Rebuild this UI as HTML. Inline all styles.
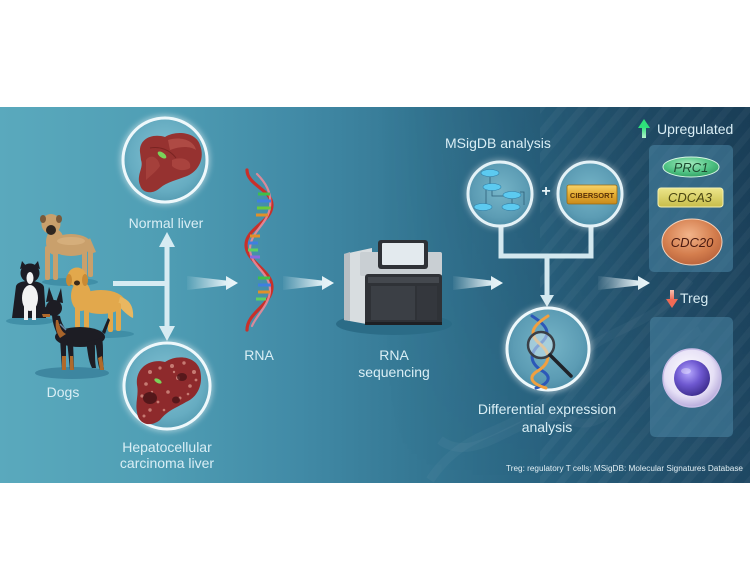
<!DOCTYPE html>
<html><head><meta charset="utf-8"><style>
html,body{margin:0;padding:0;background:#fff;}
svg{display:block;}
text{font-family:"Liberation Sans",Arial,sans-serif;}
</style></head><body>
<svg width="750" height="566" viewBox="0 0 750 566" xmlns="http://www.w3.org/2000/svg">
<defs>
<linearGradient id="bg" x1="0" x2="1" y1="0" y2="0">
<stop offset="0" stop-color="#5aa9bd"/>
<stop offset="0.2" stop-color="#509fb5"/>
<stop offset="0.4" stop-color="#418aa6"/>
<stop offset="0.55" stop-color="#357894"/>
<stop offset="0.7" stop-color="#2b6683"/>
<stop offset="0.85" stop-color="#245470"/>
<stop offset="1" stop-color="#1f4863"/>
</linearGradient>
<linearGradient id="vshade" x1="0" x2="0" y1="0" y2="1">
<stop offset="0" stop-color="#0c2236" stop-opacity="0.28"/>
<stop offset="1" stop-color="#0c2236" stop-opacity="0"/>
</linearGradient>
<linearGradient id="hfade" x1="0" x2="1" y1="0" y2="0">
<stop offset="0" stop-color="#fff" stop-opacity="0"/>
<stop offset="1" stop-color="#fff" stop-opacity="1"/>
</linearGradient>
<mask id="rightmask"><rect x="380" y="107" width="370" height="376" fill="url(#hfade)"/></mask>
<pattern id="stripes" width="16" height="16" patternUnits="userSpaceOnUse" patternTransform="rotate(40)">
<rect width="7" height="16" fill="#ffffff" fill-opacity="0.035"/>
</pattern>
<linearGradient id="arr" x1="0" x2="1" y1="0" y2="0">
<stop offset="0" stop-color="#e8f4f8" stop-opacity="0.05"/>
<stop offset="0.75" stop-color="#e8f4f8" stop-opacity="0.95"/>
<stop offset="1" stop-color="#eef8fb" stop-opacity="1"/>
</linearGradient>
<radialGradient id="cfill" cx="0.5" cy="0.45" r="0.6">
<stop offset="0" stop-color="#86c4d5"/>
<stop offset="0.7" stop-color="#66acc1"/>
<stop offset="1" stop-color="#5096ad"/>
</radialGradient>
<radialGradient id="cfill2" cx="0.5" cy="0.45" r="0.6">
<stop offset="0" stop-color="#76b5c8"/>
<stop offset="0.7" stop-color="#5c9cb4"/>
<stop offset="1" stop-color="#4888a2"/>
</radialGradient>
<filter id="glow" x="-30%" y="-30%" width="160%" height="160%">
<feGaussianBlur stdDeviation="3"/>
</filter>
<radialGradient id="prc" cx="0.45" cy="0.35" r="0.7">
<stop offset="0" stop-color="#a6ecc0"/>
<stop offset="0.6" stop-color="#4fc283"/>
<stop offset="1" stop-color="#2e9a5f"/>
</radialGradient>
<linearGradient id="cdca" x1="0" x2="0" y1="0" y2="1">
<stop offset="0" stop-color="#ece68a"/>
<stop offset="1" stop-color="#c8bd4a"/>
</linearGradient>
<radialGradient id="cdc20" cx="0.45" cy="0.35" r="0.7">
<stop offset="0" stop-color="#f2b48a"/>
<stop offset="0.6" stop-color="#d47e4e"/>
<stop offset="1" stop-color="#b5603a"/>
</radialGradient>
<linearGradient id="gold" x1="0" x2="0" y1="0" y2="1">
<stop offset="0" stop-color="#f6d36a"/>
<stop offset="0.5" stop-color="#e5ad32"/>
<stop offset="1" stop-color="#c98a1c"/>
</linearGradient>
<radialGradient id="nuc" cx="0.4" cy="0.35" r="0.7">
<stop offset="0" stop-color="#b6a8ff"/>
<stop offset="0.5" stop-color="#6e58d0"/>
<stop offset="1" stop-color="#3a2a8a"/>
</radialGradient>
<radialGradient id="cell" cx="0.45" cy="0.4" r="0.6">
<stop offset="0" stop-color="#ffffff"/>
<stop offset="0.7" stop-color="#e6e0f6"/>
<stop offset="1" stop-color="#b9addc"/>
</radialGradient>
<linearGradient id="grn" x1="0" x2="0" y1="0" y2="1">
<stop offset="0" stop-color="#2ee07a"/>
<stop offset="1" stop-color="#b7f5cf"/>
</linearGradient>
<linearGradient id="red" x1="0" x2="0" y1="0" y2="1">
<stop offset="0" stop-color="#f9c0b0"/>
<stop offset="1" stop-color="#ef6a55"/>
</linearGradient>
</defs>

<rect x="0" y="107" width="750" height="376" fill="url(#bg)"/>
<rect x="380" y="107" width="370" height="376" fill="url(#vshade)" mask="url(#rightmask)"/>
<rect x="540" y="107" width="210" height="376" fill="url(#stripes)"/>
<g fill="none" stroke="#ffffff" stroke-opacity="0.035" stroke-width="9">
<path d="M430,480 C470,420 520,440 560,380 C600,320 640,340 690,280"/>
<path d="M440,440 C480,470 530,400 570,420 C610,440 650,360 700,330"/>
</g>

<!-- Dogs -->
<g>
<ellipse cx="70" cy="282" rx="28" ry="4" fill="#3b8aa3" opacity="0.8"/>
<ellipse cx="30" cy="321" rx="24" ry="4" fill="#3b8aa3" opacity="0.8"/>
<ellipse cx="104" cy="334" rx="30" ry="4" fill="#3b8aa3" opacity="0.8"/>
<ellipse cx="72" cy="373" rx="37" ry="6" fill="#3a819b" opacity="0.85"/>
<g fill="#c9a06c">
<ellipse cx="71" cy="245" rx="21" ry="11"/>
<ellipse cx="55" cy="242" rx="9" ry="13"/>
<rect x="45" y="246" width="5" height="34" rx="2"/>
<rect x="53" y="248" width="5" height="32" rx="2"/>
<rect x="82" y="248" width="5" height="30" rx="2"/>
<rect x="88" y="246" width="5" height="31" rx="2"/>
<path d="M90,238 L96,252 L93,253 L88,241Z"/>
<ellipse cx="51" cy="224" rx="9.5" ry="10"/>
</g>
<ellipse cx="51" cy="230" rx="5" ry="5" fill="#2e2620"/>
<ellipse cx="43" cy="219" rx="3" ry="4" fill="#7a5a3a"/>
<ellipse cx="59" cy="219" rx="3" ry="4" fill="#7a5a3a"/>
<ellipse cx="71" cy="241" rx="14" ry="4" fill="#ddb886" opacity="0.6"/>
<path d="M16,286 C18,279 42,279 44,287 L46,318 L12,318 Z" fill="#1c1c24"/>
<ellipse cx="30" cy="298" rx="8" ry="13" fill="#f2f2f2"/>
<rect x="24" y="304" width="4" height="16" fill="#f2f2f2"/>
<rect x="32" y="304" width="4" height="16" fill="#f2f2f2"/>
<circle cx="30" cy="273" r="9.5" fill="#1c1c24"/>
<path d="M20,269 L22,261 L27,267Z M40,269 L38,261 L33,267Z" fill="#1c1c24"/>
<ellipse cx="30" cy="278" rx="3.5" ry="6" fill="#f2f2f2"/>
<g fill="#e2a84c">
<ellipse cx="101" cy="302" rx="24" ry="12"/>
<ellipse cx="81" cy="296" rx="10" ry="15"/>
<path d="M120,297 C130,299 134,308 133,318 C128,316 122,310 118,305Z" fill="#e9b760"/>
<rect x="75" y="304" width="5" height="28" rx="2"/>
<rect x="84" y="305" width="5" height="27" rx="2"/>
<rect x="108" y="305" width="5" height="27" rx="2"/>
<rect x="116" y="303" width="5" height="28" rx="2"/>
<circle cx="77" cy="277" r="9.5"/>
</g>
<ellipse cx="69" cy="280" rx="3" ry="6" fill="#c98a34"/>
<ellipse cx="85" cy="280" rx="3" ry="6" fill="#c98a34"/>
<ellipse cx="77" cy="283" rx="3" ry="2.5" fill="#3a2a1a"/>
<path d="M46,302 L49,287 L54,301Z M56,302 L61,288 L63,303Z" fill="#1d1d24"/>
<path d="M60,316 C62,326 66,330 70,332 L58,336 C54,328 52,320 52,314Z" fill="#1d1d24"/>
<ellipse cx="80" cy="337" rx="25" ry="10" fill="#1d1d24"/>
<ellipse cx="54" cy="308" rx="8" ry="8" fill="#1d1d24"/>
<path d="M47,306 L38,313 L42,317 L52,315Z" fill="#1d1d24"/>
<path d="M42,314 L50,314 L50,317 L43,317Z" fill="#b06a2a"/>
<path d="M58,320 C60,328 62,332 66,334 L60,338 C56,332 55,326 56,320Z" fill="#a8642a"/>
<path d="M60,338 L62,370 L66,370 L66,340Z M67,340 L70,370 L74,370 L73,340Z" fill="#1d1d24"/>
<path d="M62,356 L62,370 L66,370 L66,356Z M70,356 L70,370 L74,370 L73,356Z" fill="#b06a2a"/>
<path d="M94,340 C98,350 96,360 100,370 L104,370 C102,358 104,348 102,338Z M86,342 C88,352 88,360 92,368 L96,368 C94,356 96,348 94,340Z" fill="#1d1d24"/>
<path d="M98,358 L100,370 L104,370 L102,356Z" fill="#b06a2a"/>
<path d="M102,332 L108,318 L110,320 L105,334Z" fill="#1d1d24"/>
<path d="M60,324 L66,330" stroke="#6a8aa8" stroke-width="1.5"/>
</g>
<text x="63" y="397" font-size="14" fill="#d9eef5" text-anchor="middle">Dogs</text>

<g fill="#d6ebf2">
<rect x="113" y="281" width="56" height="5"/>
<rect x="164.5" y="244" width="5" height="85"/>
<polygon points="159,247 175,247 167,232"/>
<polygon points="159,326 175,326 167,341"/>
</g>

<!-- Normal liver -->
<circle cx="165" cy="160" r="45" fill="#ffffff" opacity="0.45" filter="url(#glow)"/>
<circle cx="165" cy="160" r="42" fill="url(#cfill)" stroke="#eef8fb" stroke-width="3"/>
<path d="M140,152 C139,139 152,133 165,137 C176,130 196,132 200,145 C205,158 199,171 187,176 C177,180 167,182 160,188 C152,195 142,193 140,185 C136,175 144,168 141,160 Z" fill="#963230"/>
<path d="M168,140 C180,136 194,140 196,150 C190,146 180,146 170,150Z" fill="#b4504a" opacity="0.8"/>
<path d="M146,160 C150,154 158,156 160,166 C156,172 150,176 146,180Z" fill="#a9433e" opacity="0.8"/>
<path d="M172,160 C182,156 192,160 190,168 C184,172 176,170 172,166Z" fill="#b04a44" opacity="0.7"/>
<path d="M150,148 C160,146 170,150 176,158" stroke="#7a2422" stroke-width="1" fill="none"/>
<ellipse cx="162" cy="155" rx="5" ry="2.5" fill="#7ad35a" transform="rotate(35 162 155)"/>
<text x="166" y="228" font-size="14" fill="#d9eef5" text-anchor="middle">Normal liver</text>

<!-- HCC liver -->
<circle cx="167" cy="386" r="46" fill="#ffffff" opacity="0.45" filter="url(#glow)"/>
<circle cx="167" cy="386" r="43" fill="url(#cfill)" stroke="#eef8fb" stroke-width="3"/>
<path d="M137,385 C135,368 150,358 165,362 C177,354 196,356 200,370 C204,386 196,398 186,402 C176,408 168,410 160,420 C150,428 138,424 137,412 C135,402 139,395 137,385 Z" fill="#8e2a2c"/>
<g fill="#d08a80" opacity="0.85">
<circle cx="150" cy="372" r="2"/><circle cx="160" cy="368" r="1.6"/><circle cx="172" cy="366" r="2"/><circle cx="184" cy="363" r="1.7"/><circle cx="194" cy="372" r="2"/>
<circle cx="146" cy="384" r="1.8"/><circle cx="156" cy="380" r="1.5"/><circle cx="178" cy="378" r="2"/><circle cx="190" cy="386" r="1.8"/><circle cx="196" cy="380" r="1.4"/>
<circle cx="142" cy="396" r="1.6"/><circle cx="168" cy="392" r="1.8"/><circle cx="180" cy="398" r="1.5"/><circle cx="150" cy="410" r="1.7"/><circle cx="158" cy="402" r="1.4"/>
<circle cx="144" cy="416" r="1.5"/><circle cx="164" cy="410" r="1.3"/><circle cx="188" cy="394" r="1.3"/><circle cx="174" cy="372" r="1.2"/><circle cx="152" cy="392" r="1.2"/>
</g>
<ellipse cx="150" cy="398" rx="7" ry="6" fill="#4a1418" opacity="0.85"/>
<ellipse cx="182" cy="377" rx="5" ry="4" fill="#4a1418" opacity="0.8"/>
<ellipse cx="176" cy="400" rx="4" ry="3.5" fill="#4a1418" opacity="0.8"/>
<ellipse cx="158" cy="381" rx="4" ry="2" fill="#7ad35a" transform="rotate(30 158 381)"/>
<text x="167" y="452" font-size="14" fill="#d9eef5" text-anchor="middle">Hepatocellular</text>
<text x="167" y="468" font-size="14" fill="#d9eef5" text-anchor="middle">carcinoma liver</text>

<!-- tapered arrows -->
<polygon points="187,276 226,280.5 226,276 238,283 226,290 226,285.5 187,290" fill="url(#arr)"/>
<polygon points="283,276 322,280.5 322,276 334,283 322,290 322,285.5 283,290" fill="url(#arr)"/>
<polygon points="453,276 491,280.5 491,276 503,283 491,290 491,285.5 453,290" fill="url(#arr)"/>
<polygon points="598,276 638,280.5 638,276 650,283 638,290 638,285.5 598,290" fill="url(#arr)"/>

<!-- RNA helix -->
<g fill="none" stroke-linecap="round">
<path d="M247,170 C247,185 272,190 272,205 C272,222 246,228 246,245 C246,262 272,270 272,287 C272,305 247,312 247,330" stroke="#c8302a" stroke-width="3.2"/>
<path d="M257,174 C265,182 272,192 270,207 C268,224 250,232 250,249 C250,266 270,272 270,290 C270,304 256,316 252,326" stroke="#e98a98" stroke-width="2.2" opacity="0.9"/>
</g>
<g stroke-width="3">
<line x1="258" y1="194" x2="270" y2="194" stroke="#3fbf4a"/>
<line x1="257" y1="201" x2="271" y2="201" stroke="#3f7fe0"/>
<line x1="257" y1="208" x2="271" y2="208" stroke="#6acb3a"/>
<line x1="256" y1="215" x2="268" y2="215" stroke="#e0902a"/>
<line x1="250" y1="236" x2="260" y2="236" stroke="#e0902a"/>
<line x1="248" y1="243" x2="258" y2="243" stroke="#3f7fe0"/>
<line x1="248" y1="250" x2="258" y2="250" stroke="#5fd060"/>
<line x1="250" y1="257" x2="260" y2="257" stroke="#8a6ae0"/>
<line x1="258" y1="278" x2="270" y2="278" stroke="#3fbf4a"/>
<line x1="258" y1="285" x2="271" y2="285" stroke="#3f7fe0"/>
<line x1="258" y1="292" x2="270" y2="292" stroke="#e0902a"/>
<line x1="256" y1="299" x2="266" y2="299" stroke="#5fd060"/>
</g>
<text x="259" y="360" font-size="14" fill="#d9eef5" text-anchor="middle">RNA</text>

<!-- Sequencer -->
<ellipse cx="394" cy="324" rx="58" ry="11" fill="#2b6c87"/>
<path d="M344,254 L372,248 L372,325 L344,320 Z" fill="#d8dde0"/>
<path d="M344,254 L350,252 L350,321 L344,320Z" fill="#b7bec3"/>
<rect x="360" y="252" width="82" height="24" rx="2" fill="#c9cfd3"/>
<rect x="378" y="240" width="50" height="29" rx="3" fill="#2e3136"/>
<rect x="382" y="243" width="42" height="22" rx="1" fill="#e3eaee"/>
<rect x="365" y="274" width="77" height="51" rx="3" fill="#2f3237"/>
<rect x="368" y="277" width="71" height="6" fill="#44484e"/>
<rect x="371" y="286" width="44" height="34" fill="#3b3f45"/>
<rect x="417" y="286" width="20" height="34" fill="#34373d"/>
<rect x="365" y="322" width="77" height="3" fill="#1e2024"/>
<text x="394" y="360" font-size="14" fill="#d9eef5" text-anchor="middle">RNA</text>
<text x="394" y="377" font-size="14" fill="#d9eef5" text-anchor="middle">sequencing</text>

<!-- MSigDB / CIBERSORT -->
<text x="445" y="148" font-size="14" fill="#d9eef5">MSigDB analysis</text>
<g fill="none" stroke="#d3e8ef" stroke-width="5">
<path d="M501,226 L501,256 L591,256 L591,226"/>
<line x1="547" y1="256" x2="547" y2="297"/>
</g>
<polygon points="540,295 554,295 547,307" fill="#d3e8ef"/>
<circle cx="500" cy="194" r="35" fill="#ffffff" opacity="0.35" filter="url(#glow)"/>
<circle cx="500" cy="194" r="32" fill="url(#cfill2)" stroke="#e4f2f7" stroke-width="3"/>
<circle cx="590" cy="194" r="35" fill="#ffffff" opacity="0.35" filter="url(#glow)"/>
<circle cx="590" cy="194" r="32" fill="url(#cfill2)" stroke="#e4f2f7" stroke-width="3"/>
<g stroke="#2d5f78" stroke-width="0.8" fill="none">
<path d="M490,177 L490,184"/><path d="M492,190 L492,196 L508,196"/><path d="M486,190 L486,204"/><path d="M512,199 L512,204"/><path d="M520,192 L524,192 L524,205"/>
</g>
<g fill="#5ccaf0" stroke="#2f7fa8" stroke-width="0.6">
<ellipse cx="490" cy="173" rx="9" ry="3.5"/>
<ellipse cx="492" cy="187" rx="9" ry="3.5"/>
<ellipse cx="512" cy="195" rx="9" ry="3.5"/>
<ellipse cx="483" cy="207" rx="9" ry="3.5"/>
<ellipse cx="511" cy="207" rx="9" ry="3.5"/>
</g>
<text x="546" y="196" font-size="16" font-weight="bold" fill="#e8f4f8" text-anchor="middle">+</text>
<rect x="567" y="185" width="50" height="19" rx="2" fill="url(#gold)" stroke="#9a6a10" stroke-width="0.8"/>
<text x="592" y="198" font-size="7.5" font-weight="bold" fill="#5a3208" text-anchor="middle">CIBERSORT</text>

<!-- Differential expression -->
<circle cx="548" cy="349" r="44" fill="#ffffff" opacity="0.45" filter="url(#glow)"/>
<circle cx="548" cy="349" r="41" fill="url(#cfill2)" stroke="#eef8fb" stroke-width="3"/>
<g fill="none" stroke-width="3" stroke-linecap="round">
<path d="M532,316 C548,326 552,334 540,344 C528,354 530,364 544,372 C552,378 548,384 536,388" stroke="#2c58b8"/>
<path d="M548,316 C532,326 528,334 540,344 C552,354 550,364 536,372 C528,378 532,384 546,388" stroke="#f0a040"/>
</g>
<circle cx="541" cy="345" r="13" fill="#cfe6ee" fill-opacity="0.55" stroke="#3a3f46" stroke-width="2.5"/>
<line x1="550" y1="355" x2="571" y2="376" stroke="#1f2228" stroke-width="3.5" stroke-linecap="round"/>
<text x="547" y="414" font-size="14" fill="#d9eef5" text-anchor="middle">Differential expression</text>
<text x="547" y="432" font-size="14" fill="#d9eef5" text-anchor="middle">analysis</text>

<!-- Upregulated -->
<polygon points="638,128 650,128 644,119" fill="#2ee07a"/>
<rect x="642" y="127" width="4" height="11" fill="url(#grn)"/>
<text x="657" y="134" font-size="14" fill="#d9eef5">Upregulated</text>
<rect x="649" y="145" width="84" height="127" rx="5" fill="#4a86a6" fill-opacity="0.55"/>
<ellipse cx="691" cy="167" rx="28" ry="10" fill="url(#prc)" stroke="#d4f5e2" stroke-width="1"/>
<text x="691" y="172" font-size="13" font-style="italic" fill="#1d4a30" text-anchor="middle">PRC1</text>
<rect x="658" y="188" width="65" height="19" rx="3" fill="url(#cdca)" stroke="#f5f0b0" stroke-width="1"/>
<text x="690" y="202" font-size="13" font-style="italic" fill="#4a4612" text-anchor="middle">CDCA3</text>
<ellipse cx="692" cy="242" rx="30" ry="23" fill="url(#cdc20)" stroke="#f2d2bc" stroke-width="1"/>
<text x="692" y="247" font-size="13" font-style="italic" fill="#4a1a10" text-anchor="middle">CDC20</text>

<!-- Treg -->
<rect x="670" y="290" width="4" height="10" fill="url(#red)"/>
<polygon points="666,299 678,299 672,308" fill="#ef6a55"/>
<text x="680" y="303" font-size="14" fill="#d9eef5">Treg</text>
<rect x="650" y="317" width="83" height="120" rx="5" fill="#4a86a6" fill-opacity="0.55"/>
<circle cx="692" cy="378" r="29" fill="url(#cell)" stroke="#c8bde6" stroke-width="1.5"/>
<circle cx="692" cy="378" r="18" fill="url(#nuc)"/>
<ellipse cx="686" cy="371" rx="5" ry="3" fill="#ffffff" opacity="0.35"/>

<text x="506" y="471" font-size="8" fill="#e2eff4" textLength="237" lengthAdjust="spacingAndGlyphs">Treg: regulatory T cells; MSigDB: Molecular Signatures Database</text>
</svg>
</body></html>
